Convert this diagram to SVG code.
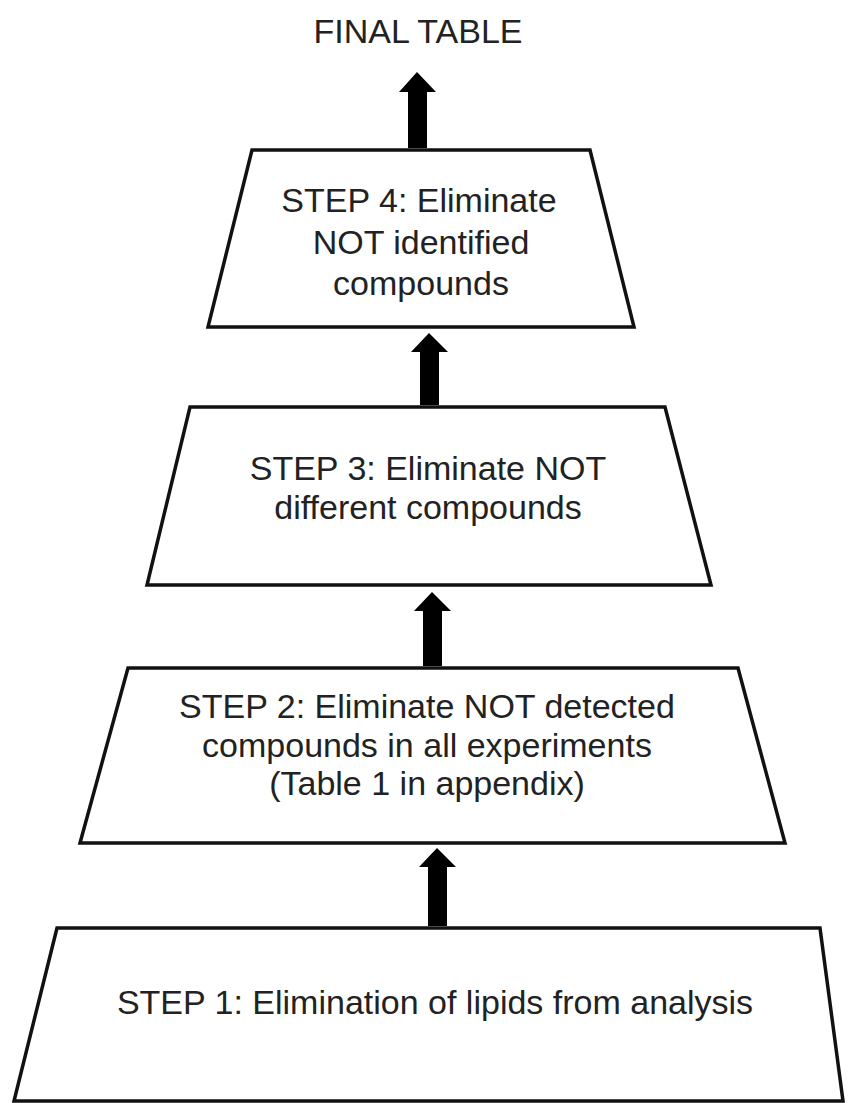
<svg xmlns="http://www.w3.org/2000/svg" width="855" height="1103" viewBox="0 0 855 1103">
<style>
.box{fill:#ffffff;stroke:#111111;stroke-width:3.5;stroke-linejoin:miter}
.t{font-family:"Liberation Sans",Arial,sans-serif;font-size:34px;fill:#222222;text-anchor:middle}
.arr{fill:#000000}
</style>
<rect width="855" height="1103" fill="#ffffff"/>
<g id="final-table">
<text class="t" x="418" y="43">FINAL TABLE</text>
</g>
<g id="step4">
<polygon class="box" points="252,150 590,150 634,327 208,327"/>
<text class="t" x="419" y="212">STEP 4: Eliminate</text>
<text class="t" x="421" y="254">NOT identified</text>
<text class="t" x="421" y="295">compounds</text>
</g>
<g id="step3">
<polygon class="box" points="190,407 665,407 711,585 147,585"/>
<text class="t" x="428" y="480">STEP 3: Eliminate NOT</text>
<text class="t" x="428" y="519">different compounds</text>
</g>
<g id="step2">
<polygon class="box" points="128,668 738,668 785,843 80,843"/>
<text class="t" x="427" y="718">STEP 2: Eliminate NOT detected</text>
<text class="t" x="427" y="757">compounds in all experiments</text>
<text class="t" x="427" y="795">(Table 1 in appendix)</text>
</g>
<g id="step1">
<polygon class="box" points="57,928 820,928 843,1101 14,1101"/>
<text class="t" x="435" y="1014">STEP 1: Elimination of lipids from analysis</text>
</g>
<g id="connectors">
<polygon class="arr" points="408,148 408,92 399,92 417,72 436,92 427,92 427,148"/>
<polygon class="arr" points="420,405 420,352 411,352 429,333 448,352 439,352 439,405"/>
<polygon class="arr" points="423,666 423,611 414,611 432,592 451,611 442,611 442,666"/>
<polygon class="arr" points="428,926 428,867 419,867 437,848 456,867 447,867 447,926"/>
</g>
</svg>
